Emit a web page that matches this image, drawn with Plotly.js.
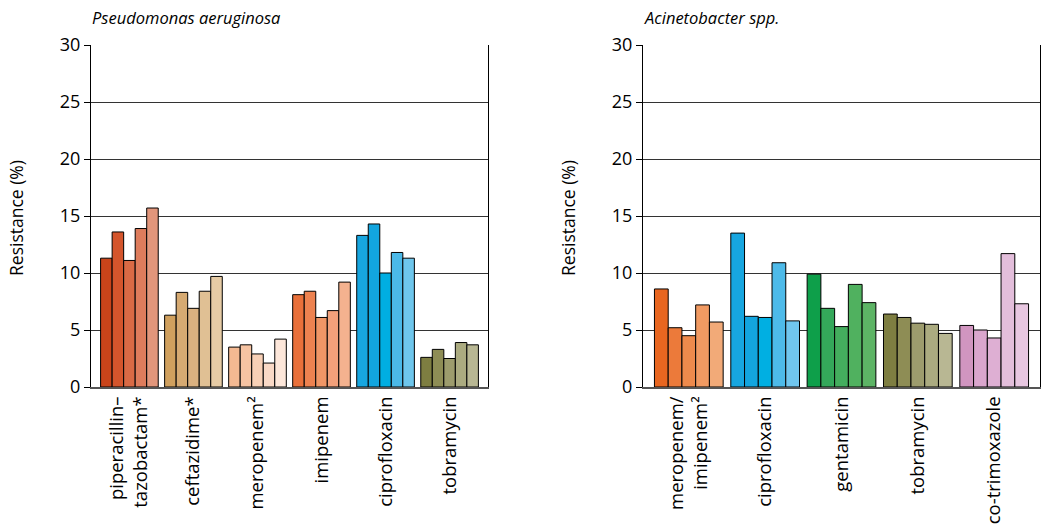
<!DOCTYPE html>
<html>
<head>
<meta charset="utf-8">
<script src="https://cdn.plot.ly/plotly-3.0.1.min.js"></script>
<style>html,body{margin:0;padding:0;background:#fff;}#chart{width:1042px;height:528px;}</style>
</head>
<body>
<div id="chart"></div>
<script>
// ---- Data ----
const pseudoCategories = ["piperacillin–<br>tazobactam*", "ceftazidime*", "meropenem²", "imipenem", "ciprofloxacin", "tobramycin"];
const pseudoYear1 = [11.3, 6.3, 3.5, 8.1, 13.3, 2.6];
const pseudoYear2 = [13.6, 8.3, 3.7, 8.4, 14.3, 3.3];
const pseudoYear3 = [11.1, 6.9, 2.9, 6.1, 10.0, 2.5];
const pseudoYear4 = [13.9, 8.4, 2.1, 6.7, 11.8, 3.9];
const pseudoYear5 = [15.7, 9.7, 4.2, 9.2, 11.3, 3.7];

const acinetoCategories = ["meropenem/<br>imipenem²", "ciprofloxacin", "gentamicin", "tobramycin", "co-trimoxazole"];
const acinetoYear1 = [8.6, 13.5, 9.9, 6.4, 5.4];
const acinetoYear2 = [5.2, 6.2, 6.9, 6.1, 5.0];
const acinetoYear3 = [4.5, 6.1, 5.3, 5.6, 4.3];
const acinetoYear4 = [7.2, 10.9, 9.0, 5.5, 11.7];
const acinetoYear5 = [5.7, 5.8, 7.4, 4.7, 7.3];

const yTicks = [0, 5, 10, 15, 20, 25, 30];

// ---- Styles ----
const pseudoColors = [
  ["#C9441A", "#D0A05E", "#F4B992", "#E9703A", "#17A6E0", "#7E7E41"],
  ["#D4552C", "#D6AA72", "#F6C3A2", "#ED8250", "#12A5DF", "#8E8D55"],
  ["#D96A45", "#DAB180", "#F8D0B6", "#F09666", "#00AEE2", "#9D9C6D"],
  ["#DE7C5C", "#E0C094", "#FAD9C6", "#F2A07A", "#4BB9E8", "#ABAB80"],
  ["#E2967B", "#E6CBA5", "#FDE7DA", "#F4B28F", "#6EC6EC", "#B8B793"]
];
const acinetoColors = [
  ["#E86620", "#17A6E0", "#0E9F4A", "#7E7E41", "#D195C0"],
  ["#EC7A3A", "#13A5DF", "#34A85A", "#8E8D55", "#DAA6CD"],
  ["#EE8A4C", "#00AFE2", "#44AE5E", "#9D9C6D", "#DEAFD3"],
  ["#F19A62", "#4DBAE9", "#50B15F", "#ABAB80", "#E3BEDB"],
  ["#F2AA78", "#70C6EE", "#5DB465", "#B8B793", "#E8C7E1"]
];

const pseudoSeries = [pseudoYear1, pseudoYear2, pseudoYear3, pseudoYear4, pseudoYear5];
const acinetoSeries = [acinetoYear1, acinetoYear2, acinetoYear3, acinetoYear4, acinetoYear5];

const traces = [];
pseudoSeries.forEach((vals, i) => {
  traces.push({
    type: "bar", x: pseudoCategories, y: vals, xaxis: "x", yaxis: "y",
    marker: {color: pseudoColors[i], line: {color: "#000", width: 1}},
    showlegend: false, hoverinfo: "y"
  });
});
acinetoSeries.forEach((vals, i) => {
  traces.push({
    type: "bar", x: acinetoCategories, y: vals, xaxis: "x2", yaxis: "y2",
    marker: {color: acinetoColors[i], line: {color: "#000", width: 1}},
    showlegend: false, hoverinfo: "y"
  });
});

const W = 1042, H = 528;
const font = "'Open Sans', 'Noto Sans', sans-serif";
const yDomain = [1 - 387 / H, 1 - 45 / H];

function xAxis(domain, n) {
  return {
    domain: domain, range: [-0.6, n - 1 + 0.6], type: "category",
    showline: true, linecolor: "#555", linewidth: 2,
    showgrid: false, zeroline: false, ticks: "",
    tickangle: -90, tickfont: {family: font, size: 18.5, color: "#000"},
    fixedrange: true
  };
}
function yAxis(anchor) {
  return {
    anchor: anchor, domain: yDomain, range: [0, 30], tickvals: yTicks,
    showline: true, linecolor: "#000", linewidth: 1, mirror: true,
    showgrid: true, gridcolor: "#333", gridwidth: 1, zeroline: false,
    ticks: "outside", ticklen: 6, tickcolor: "#000",
    tickfont: {family: font, size: 18, color: "#000"},
    fixedrange: true
  };
}

const layout = {
  width: W, height: H,
  margin: {l: 0, r: 0, t: 0, b: 0},
  paper_bgcolor: "#fff", plot_bgcolor: "#fff",
  barmode: "group", bargap: 0.1, bargroupgap: 0,
  xaxis: Object.assign(xAxis([91 / W, 488 / W], pseudoCategories.length), {anchor: "y"}),
  yaxis: yAxis("x"),
  xaxis2: Object.assign(xAxis([643 / W, 1040 / W], acinetoCategories.length), {anchor: "y2"}),
  yaxis2: yAxis("x2"),
  annotations: [
    {text: "Pseudomonas aeruginosa", xref: "paper", yref: "paper", x: 90 / W, y: 1 - 17 / H,
     xanchor: "left", yanchor: "middle", showarrow: false,
     font: {family: font, size: 16.5, color: "#000", style: "italic"}},
    {text: "Acinetobacter spp.", xref: "paper", yref: "paper", x: 642 / W, y: 1 - 17 / H,
     xanchor: "left", yanchor: "middle", showarrow: false,
     font: {family: font, size: 16.5, color: "#000", style: "italic"}},
    {text: "Resistance (%)", xref: "paper", yref: "paper", x: 16 / W, y: 1 - 218 / H,
     xanchor: "center", yanchor: "middle", textangle: -90, showarrow: false,
     font: {family: font, size: 17.5, color: "#000"}},
    {text: "Resistance (%)", xref: "paper", yref: "paper", x: 568 / W, y: 1 - 218 / H,
     xanchor: "center", yanchor: "middle", textangle: -90, showarrow: false,
     font: {family: font, size: 17.5, color: "#000"}}
  ]
};

Plotly.newPlot("chart", traces, layout, {displayModeBar: false, staticPlot: true});
</script>
</body>
</html>
